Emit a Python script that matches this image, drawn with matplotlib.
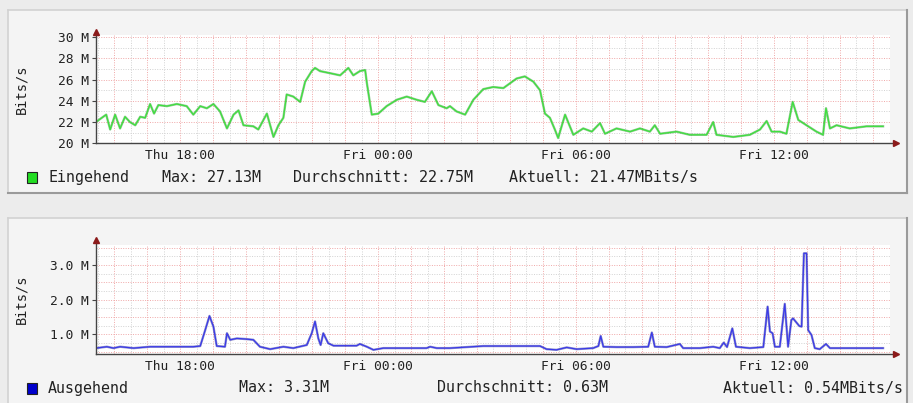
import matplotlib
matplotlib.use('Agg')
import matplotlib.pyplot as plt
from matplotlib.patches import Rectangle
from matplotlib.lines import Line2D

plt.rcParams['font.family'] = 'DejaVu Sans Mono'

W, H = 913, 403

# Zeit in Stunden ab Donnerstag 00:00, Werte in MBit/s
ein_t = [15.45, 15.58, 15.76, 15.88, 16.03, 16.18, 16.33, 16.48, 16.64, 16.79,
         16.94, 17.09, 17.21, 17.34, 17.60, 17.90, 18.20, 18.40, 18.61, 18.81,
         19.01, 19.21, 19.42, 19.62, 19.77, 19.92, 20.22, 20.37, 20.63, 20.83,
         20.98, 21.13, 21.23, 21.43, 21.64, 21.79, 21.99, 22.09, 22.24, 22.55,
         22.85, 23.10, 23.25, 23.45, 23.61, 23.66, 23.81, 24.01, 24.26, 24.57,
         24.87, 25.17, 25.42, 25.63, 25.83, 26.08,
         26.18, 26.38, 26.64, 26.89, 27.19, 27.49, 27.80, 28.20, 28.45, 28.71,
         28.91, 29.06, 29.21, 29.36, 29.46, 29.67, 29.92, 30.22, 30.48, 30.73,
         30.88, 31.23, 31.64, 31.94, 32.24, 32.39, 32.55, 33.05, 33.45, 33.96,
         34.16, 34.26, 34.77, 35.27, 35.58, 35.78, 35.93, 36.18, 36.38, 36.57,
         36.74, 36.99, 37.29, 37.49, 37.58, 37.70, 37.90, 38.30, 38.81, 39.31]
ein_v = [22.0, 22.3, 22.7, 21.3, 22.7, 21.4, 22.5, 22.0, 21.7, 22.5,
         22.4, 23.7, 22.8, 23.6, 23.5, 23.7, 23.5, 22.7, 23.5, 23.3,
         23.7, 23.0, 21.4, 22.7, 23.1, 21.7, 21.6, 21.3, 22.8, 20.6,
         21.7, 22.4, 24.6, 24.4, 23.9, 25.8, 26.8, 27.1, 26.8, 26.6,
         26.4, 27.1, 26.4, 26.8, 26.9, 25.7, 22.7, 22.8, 23.5, 24.1,
         24.4, 24.1, 23.9, 24.9, 23.6, 23.3,
         23.5, 23.0, 22.7, 24.1, 25.1, 25.3, 25.2, 26.1, 26.3, 25.8,
         25.0, 22.8, 22.4, 21.3, 20.5, 22.7, 20.8, 21.4, 21.1, 21.9,
         20.9, 21.4, 21.1, 21.4, 21.1, 21.7, 20.9, 21.1, 20.8, 20.8,
         22.0, 20.8, 20.6, 20.8, 21.3, 22.1, 21.1, 21.1, 20.9, 23.9,
         22.2, 21.7, 21.1, 20.8, 23.3, 21.4, 21.7, 21.4, 21.6, 21.6]

aus_t = [15.45, 15.78, 15.98, 16.18, 16.59, 17.09, 17.60, 18.40, 18.61, 18.76,
         18.89, 19.01, 19.11, 19.36, 19.42, 19.52, 19.72, 20.02, 20.22, 20.42,
         20.73, 21.13, 21.43, 21.84, 21.99, 22.09, 22.19, 22.26, 22.34, 22.49,
         22.65, 23.35, 23.45, 23.66, 23.86, 24.16, 24.67, 25.47, 25.58, 25.78,
         26.18, 26.69, 27.19, 28.20, 28.91, 29.11, 29.41, 29.72, 30.02, 30.52,
         30.68, 30.75, 30.83, 31.23, 31.74, 32.19, 32.30, 32.39, 32.75, 33.15,
         33.25, 33.76, 34.16, 34.36, 34.48, 34.58, 34.74, 34.85, 35.27, 35.68,
         35.81, 35.88, 35.96, 36.03, 36.18, 36.33, 36.43, 36.53, 36.58, 36.77,
         36.84, 36.91, 36.99, 37.04, 37.14, 37.24, 37.39, 37.58, 37.70, 38.30,
         39.31]
aus_v = [0.60, 0.64, 0.60, 0.64, 0.60, 0.64, 0.64, 0.64, 0.66, 1.12,
         1.53, 1.22, 0.66, 0.64, 1.03, 0.84, 0.88, 0.86, 0.84, 0.64,
         0.57, 0.64, 0.60, 0.69, 1.03, 1.37, 0.88, 0.69, 1.03, 0.74,
         0.67, 0.67, 0.72, 0.64, 0.55, 0.60, 0.60, 0.60, 0.64, 0.60,
         0.60, 0.63, 0.66, 0.66, 0.66, 0.57, 0.55, 0.62, 0.57, 0.60,
         0.66, 0.95, 0.64, 0.63, 0.63, 0.64, 1.05, 0.64, 0.63, 0.72,
         0.60, 0.60, 0.64, 0.60, 0.76, 0.63, 1.17, 0.64, 0.60, 0.63,
         1.80, 1.08, 1.03, 0.64, 0.64, 1.88, 0.64, 1.41, 1.46, 1.24,
         1.22, 3.34, 3.34, 1.12, 0.98, 0.60, 0.57, 0.72, 0.60, 0.60,
         0.60]

tick_pos = [18, 24, 30, 36]
tick_lbl = ['Thu 18:00', 'Fri 00:00', 'Fri 06:00', 'Fri 12:00']

ein_yticks = [20, 22, 24, 26, 28, 30]
ein_ylbl = ['20 M', '22 M', '24 M', '26 M', '28 M', '30 M']
aus_yticks = [1.0, 2.0, 3.0]
aus_ylbl = ['1.0 M', '2.0 M', '3.0 M']

ein_legend = ['Eingehend', 'Max: 27.13M', 'Durchschnitt: 22.75M', 'Aktuell: 21.47MBits/s']
aus_legend = ['Ausgehend', 'Max: 3.31M', 'Durchschnitt: 0.63M', 'Aktuell: 0.54MBits/s']


def fx(x):
    return x / W


def fy(y):
    return 1 - y / H


fig = plt.figure(figsize=(W / 100, H / 100), dpi=100, facecolor='#ececec')


def box(y0, y1):
    fig.add_artist(Rectangle((fx(8), fy(y1)), fx(907) - fx(8), fy(y0) - fy(y1),
                             transform=fig.transFigure, facecolor='#f4f4f4',
                             edgecolor='none', zorder=-5))
    # heller Rand oben/links, dunkler unten/rechts
    fig.add_artist(Line2D([fx(8), fx(907)], [fy(y0), fy(y0)], color='#d2d2d2', lw=1.2, zorder=-4))
    fig.add_artist(Line2D([fx(8), fx(8)], [fy(y0), fy(y1)], color='#d2d2d2', lw=1.2, zorder=-4))
    fig.add_artist(Line2D([fx(8), fx(907)], [fy(y1), fy(y1)], color='#9a9a9a', lw=1.5, zorder=-4))
    fig.add_artist(Line2D([fx(907), fx(907)], [fy(y0), fy(y1)], color='#9a9a9a', lw=1.5, zorder=-4))


box(10, 193)
box(218, 410)


def panel(top, bottom, ylim, minor_h, major_h, yticks, ylbl, t, v, col, dark, arrow_y):
    ax = fig.add_axes([fx(96), fy(bottom), fx(890) - fx(96), fy(top) - fy(bottom)])
    ax.set_zorder(5)
    ax.set_facecolor('white')
    for h in range(16, 40):
        ax.axvline(h - 0.5, color='#d2d2d2', lw=0.7, ls=(0, (1, 1.5)), zorder=1)
        ax.axvline(h, color='#f0a8a8', lw=0.7, ls=(0, (1, 1.5)), zorder=1)
    for y in minor_h:
        ax.axhline(y, color='#d2d2d2', lw=0.7, ls=(0, (1, 1.5)), zorder=1)
    for y in major_h:
        ax.axhline(y, color='#f0a8a8', lw=0.7, ls=(0, (1, 1.5)), zorder=1)
    ax.plot(t, v, color=dark, lw=1.7, alpha=0.45, zorder=3)
    ax.plot(t, v, color=col, lw=0.9, zorder=4)
    ax.set_xlim(15.45, 39.52)
    ax.set_ylim(*ylim)
    for s in ax.spines.values():
        s.set_visible(False)
    ax.set_xticks(tick_pos)
    ax.set_xticklabels(tick_lbl, fontsize=9.3, color='#222')
    ax.tick_params(axis='x', length=0, pad=4)
    ax.set_yticks(yticks)
    ax.set_yticklabels(ylbl, fontsize=9.3, color='#222')
    ax.tick_params(axis='y', length=3, width=0.8, color='#444', pad=2)
    ax.set_ylabel('Bits/s', fontsize=9.8, color='#222')
    ax.yaxis.set_label_coords(-0.085, 0.5)
    # Achsen mit Pfeilen
    ax.plot([0, 0], [0, arrow_y], color='#444', lw=1.0, transform=ax.transAxes,
            clip_on=False, zorder=5)
    ax.plot([0, 1.008], [0, 0], color='#444', lw=1.0, transform=ax.transAxes,
            clip_on=False, zorder=5)
    ax.plot([0], [arrow_y], marker='^', color='#8b1a1a', ms=5,
            transform=ax.transAxes, clip_on=False, zorder=6)
    ax.plot([1.008], [0], marker='>', color='#8b1a1a', ms=5,
            transform=ax.transAxes, clip_on=False, zorder=6)
    return ax


panel(35, 143.3, (20, 30.2), [21, 23, 25, 27, 29], [22, 24, 26, 28, 30],
      ein_yticks, ein_ylbl, ein_t, ein_v, '#3ee03e', '#1a8a1a', 1.03)
panel(245, 354, (0.43, 3.58), [0.75, 1.25, 1.75, 2.25, 2.75, 3.25],
      [0.5, 1.0, 1.5, 2.0, 2.5, 3.0, 3.5],
      aus_yticks, aus_ylbl, aus_t, aus_v, '#3a3ae8', '#1a1a90', 1.045)

# Legenden
fig.add_artist(Rectangle((fx(27), fy(183)), fx(10), 11 / H, transform=fig.transFigure,
                         facecolor='#22dd22', edgecolor='#222', lw=0.8))
for x, s in zip([48, 162, 293, 509], ein_legend):
    fig.text(fx(x), fy(177.5), s, fontsize=10.8, color='#222', va='center', ha='left')

fig.add_artist(Rectangle((fx(27), fy(394)), fx(10), 11 / H, transform=fig.transFigure,
                         facecolor='#0000cc', edgecolor='#222', lw=0.8))
for x, s in zip([48, 239, 437, 723], aus_legend):
    fig.text(fx(x), fy(388), s, fontsize=10.8, color='#222', va='center', ha='left')

fig.savefig('out.png', dpi=100, facecolor=fig.get_facecolor())
